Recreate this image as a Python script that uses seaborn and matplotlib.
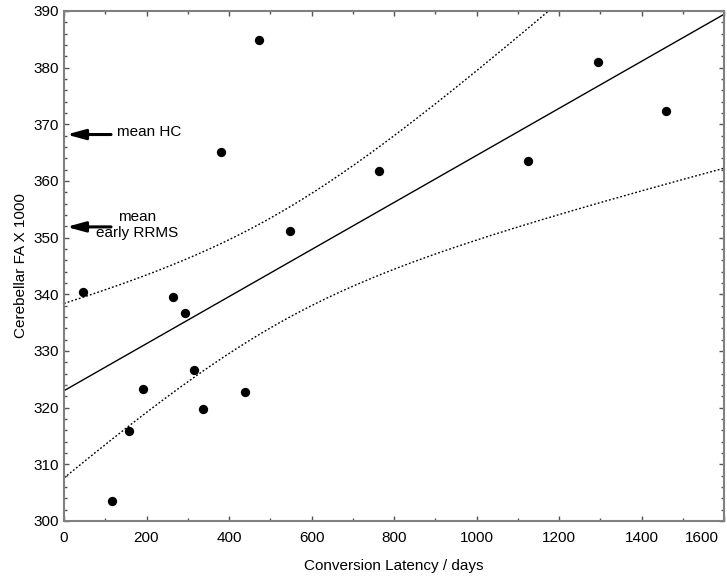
import numpy as np
import pandas as pd
import matplotlib
matplotlib.use("Agg")
import matplotlib.pyplot as plt
import matplotlib.transforms as mtrans
import seaborn as sns
from matplotlib.ticker import MultipleLocator

# --- data ---
latency_days = [47, 264, 294, 192, 157, 316, 336, 438, 117, 547,
                380, 473, 764, 1126, 1295, 1459]
cereb_fa = [340.4, 339.5, 336.7, 323.3, 315.8, 326.7, 319.8, 322.8, 303.6, 351.2,
            365.1, 384.9, 361.8, 363.5, 381.0, 372.4]
mean_hc = 368.2
mean_early_rrms = 351.9
t_crit = 2.1448  # t(0.975, df=14)

df = pd.DataFrame({"latency": latency_days, "fa": cereb_fa})

sns.set_style("ticks")
plt.rcParams["font.family"] = ["Liberation Sans", "DejaVu Sans"]
plt.rcParams["text.color"] = "black"
plt.rcParams["axes.labelcolor"] = "black"
plt.rcParams["xtick.color"] = "black"
plt.rcParams["ytick.color"] = "black"

fig = plt.figure(figsize=(7.27, 5.76), dpi=100)
ax = fig.add_axes([64 / 727, 55 / 576, 660 / 727, 510 / 576])
ax.set_xlim(0, 1600)
ax.set_ylim(300, 390)

# fitted line + 95% confidence band of the mean
slope, intercept = np.polyfit(df["latency"], df["fa"], 1)
n = len(df)
resid = df["fa"] - (intercept + slope * df["latency"])
s = np.sqrt((resid ** 2).sum() / (n - 2))
xbar = df["latency"].mean()
sxx = ((df["latency"] - xbar) ** 2).sum()
xs = np.linspace(0, 1600, 300)
fit = intercept + slope * xs
half = t_crit * s * np.sqrt(1 / n + (xs - xbar) ** 2 / sxx)

sns.regplot(data=df, x="latency", y="fa", ax=ax, scatter=False, ci=None,
            truncate=False, color="black", line_kws={"lw": 1.0})
ax.plot(xs, fit + half, color="black", lw=1.0, ls=(0, (1.3, 1.5)))
ax.plot(xs, fit - half, color="black", lw=1.0, ls=(0, (1.3, 1.5)))

sns.scatterplot(data=df, x="latency", y="fa", ax=ax, color="black", s=45,
                edgecolor="black", linewidth=0, zorder=5)

# reference arrows
arrow_kw = dict(arrowstyle="-|>,head_length=1.1,head_width=0.3", lw=2.2,
                color="black", shrinkA=0, shrinkB=0)
ax.annotate("", xy=(6, mean_hc), xytext=(114, mean_hc), arrowprops=arrow_kw)
ax.annotate("", xy=(6, mean_early_rrms), xytext=(114, mean_early_rrms), arrowprops=arrow_kw)
ax.text(128, mean_hc + 0.4, "mean HC", fontsize=11, ha="left", va="center")
ax.text(177, mean_early_rrms + 0.3, "mean\nearly RRMS", fontsize=11, ha="center",
        va="center", linespacing=1.15)

ax.set_xlim(0, 1600)
ax.set_ylim(300, 390)
ax.xaxis.set_major_locator(MultipleLocator(200))
ax.xaxis.set_minor_locator(MultipleLocator(100))
ax.yaxis.set_major_locator(MultipleLocator(10))
ax.yaxis.set_minor_locator(MultipleLocator(2))
ax.tick_params(which="both", direction="in", top=True, right=True,
               color="#555555", labelsize=11)
ax.tick_params(which="major", length=3.5, width=1)
ax.tick_params(which="minor", length=2, width=1)
ax.tick_params(axis="x", pad=7)
for sp in ax.spines.values():
    sp.set_visible(True)
    sp.set_color("#808080")
    sp.set_linewidth(1.5)

ax.set_xlabel("Conversion Latency / days", fontsize=11, labelpad=10)
ax.set_ylabel("Cerebellar FA X 1000", fontsize=11, labelpad=4)

# last x label pulled inside the figure, as in the reference
fig.canvas.draw()
for tick in ax.xaxis.get_major_ticks():
    if tick.label1.get_text() == "1600":
        tick.label1.set_horizontalalignment("right")
        tick.label1.set_transform(tick.label1.get_transform() +
                                  mtrans.ScaledTranslation(-5 / 100, 0, fig.dpi_scale_trans))

fig.savefig("out.png", dpi=100)
